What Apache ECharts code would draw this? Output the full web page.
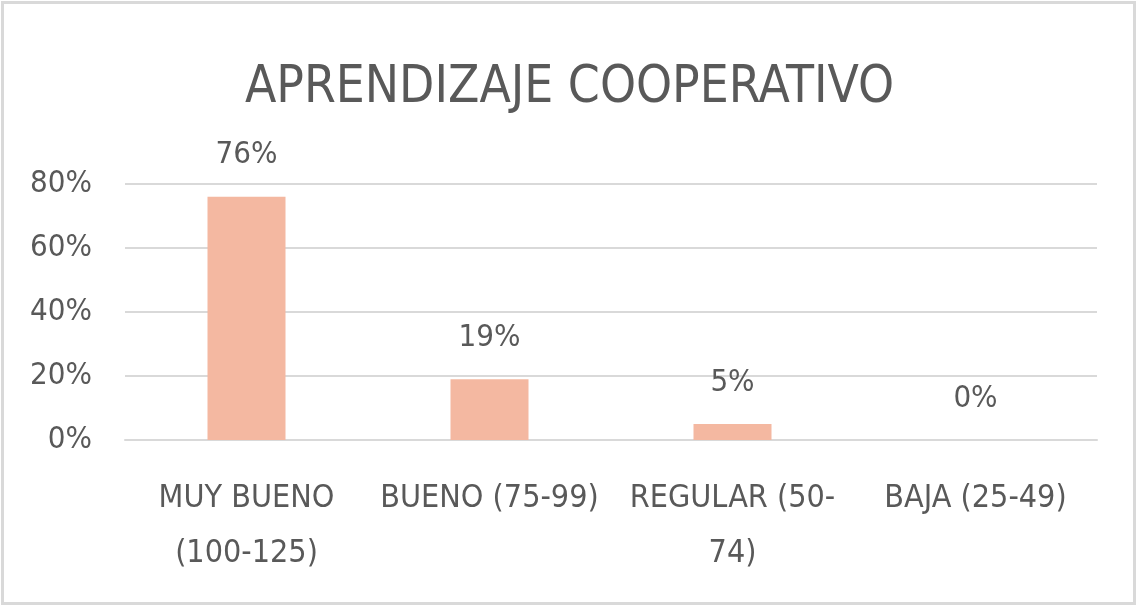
<!DOCTYPE html>
<html>
<head>
<meta charset="utf-8">
<script src="https://cdn.jsdelivr.net/npm/echarts@6/dist/echarts.min.js"></script>
<style>
html,body{margin:0;padding:0;background:#fff;}
#c{width:1139px;height:607px;}
</style>
</head>
<body>
<div id="c"></div>
<script>
const categories = ['MUY BUENO\n(100-125)', 'BUENO (75-99)', 'REGULAR (50-\n74)', 'BAJA (25-49)'];
const values = [76, 19, 5, 0];
const yTicks = [0, 20, 40, 60, 80];

const FONT = "'Liberation Sans Narrow', 'DejaVu Sans Condensed', 'Noto Sans', sans-serif";
const TXT = '#595959';
const chart = echarts.init(document.getElementById('c'), null, {renderer: 'canvas'});
chart.setOption({
  animation: false,
  backgroundColor: '#ffffff',
  title: {
    text: 'APRENDIZAJE COOPERATIVO',
    left: 'center',
    top: 58,
    textStyle: {fontFamily: FONT, fontSize: 51, fontWeight: 'normal', color: TXT}
  },
  graphic: [{
    type: 'rect', shape: {x: 2.5, y: 2.5, width: 1132, height: 601},
    style: {fill: 'none', stroke: '#d9d9d9', lineWidth: 3}, silent: true
  }],
  grid: {left: 125, right: 42, top: 184, bottom: 167},
  xAxis: {
    type: 'category',
    data: categories,
    axisLine: {show: true, lineStyle: {color: '#d9d9d9', width: 2}},
    axisTick: {show: false},
    axisLabel: {fontFamily: FONT, fontSize: 32, color: TXT, margin: 31, lineHeight: 55, interval: 0}
  },
  yAxis: {
    type: 'value',
    min: yTicks[0], max: yTicks[yTicks.length - 1], interval: 20,
    axisLine: {show: false}, axisTick: {show: false},
    splitLine: {lineStyle: {color: '#d9d9d9', width: 2}},
    axisLabel: {fontFamily: FONT, fontSize: 31, color: TXT, margin: 33, formatter: v => v + '%'}
  },
  series: [{
    type: 'bar',
    data: values,
    barWidth: 78,
    itemStyle: {color: '#F4B8A1'},
    label: {show: true, position: 'top', distance: 26, fontFamily: FONT, fontSize: 31, color: TXT, formatter: p => p.value + '%'}
  }]
});
</script>
</body>
</html>
